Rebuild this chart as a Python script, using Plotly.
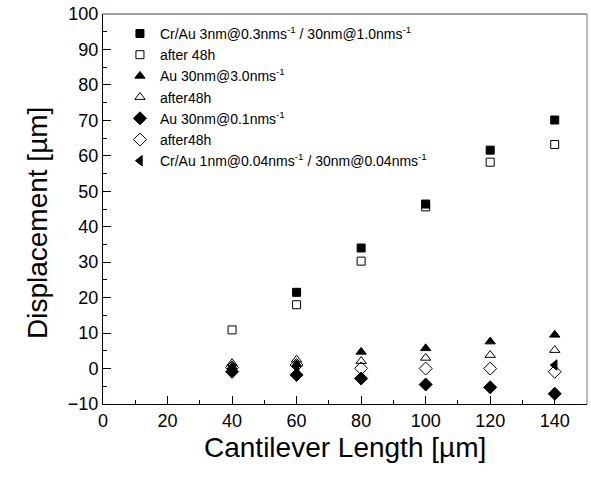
import plotly.graph_objects as go

# Cantilever lengths (µm)
lengths = [40, 60, 80, 100, 120, 140]

# Tip displacement (µm) for each deposition condition
crau_3nm = [None, 21.5, 34.0, 46.4, 61.6, 70.1]
crau_3nm_48h = [10.9, 18.0, 30.3, 45.6, 58.2, 63.2]
au_30nm_fast = [0.5, 1.2, 4.7, 5.7, 7.6, 9.5]
au_30nm_fast_48h = [1.5, 2.5, 2.1, 3.0, 3.8, 5.2]
au_30nm_slow = [-0.9, -1.8, -2.8, -4.5, -5.3, -7.1]
au_30nm_slow_48h = [0.3, 1.0, 0.05, 0.0, 0.0, -0.9]
crau_1nm = [0.0, 0.5, None, None, None, 1.0]

series = [
    ("Cr/Au 3nm@0.3nms<sup>-1</sup> / 30nm@1.0nms<sup>-1</sup>", crau_3nm, "square", 8),
    ("after 48h", crau_3nm_48h, "square-open", 8),
    ("Au 30nm@3.0nms<sup>-1</sup>", au_30nm_fast, "triangle-up", 9),
    ("after48h", au_30nm_fast_48h, "triangle-up-open", 9),
    ("Au 30nm@0.1nms<sup>-1</sup>", au_30nm_slow, "diamond", 10),
    ("after48h", au_30nm_slow_48h, "diamond-open", 10),
    ("Cr/Au 1nm@0.04nms<sup>-1</sup> / 30nm@0.04nms<sup>-1</sup>", crau_1nm, "triangle-left", 9),
]

fig = go.Figure()
for name, vals, sym, size in series:
    fig.add_trace(go.Scatter(
        x=lengths, y=vals, mode="markers", name=name,
        marker=dict(symbol=sym, size=size, color="black",
                    line=dict(color="black", width=1)),
    ))

axis_common = dict(
    showgrid=False, zeroline=False, showline=True, linecolor="black",
    linewidth=1, ticks="inside", ticklen=8, tickwidth=1,
    tickcolor="black", tickfont=dict(size=18, color="black"),
)

fig.update_xaxes(
    range=[0, 150], tickmode="linear", tick0=0, dtick=20,
    minor=dict(ticks="inside", ticklen=4, dtick=10, tickcolor="black"),
    **axis_common,
)
fig.update_yaxes(
    range=[-10, 100], tickmode="linear", tick0=-10, dtick=10,
    minor=dict(ticks="inside", ticklen=4, dtick=5, tickcolor="black"),
    **axis_common,
)

# Top and right frame lines, drawn a little lighter than the axes
fig.add_shape(type="line", xref="paper", yref="paper", x0=0, x1=1, y0=1, y1=1,
              line=dict(color="#444444", width=1))
fig.add_shape(type="line", xref="paper", yref="paper", x0=1, x1=1, y0=0, y1=1,
              line=dict(color="#777777", width=1))

# Axis titles
fig.add_annotation(text="Cantilever Length [\u00b5m]", xref="paper", yref="paper",
                   x=0.5, y=0, yshift=-43, xanchor="center", yanchor="middle",
                   showarrow=False, font=dict(size=28, color="black"))
fig.add_annotation(text="Displacement [\u00b5m]", xref="paper", yref="paper",
                   x=0, y=0.464, xshift=-66, xanchor="center", yanchor="middle",
                   textangle=-90, showarrow=False, font=dict(size=28, color="black"))

fig.update_layout(
    width=591, height=480,
    margin=dict(l=103, r=4, t=14, b=76),
    paper_bgcolor="white", plot_bgcolor="white",
    font=dict(family="Liberation Sans, Arial, sans-serif", color="black"),
    legend=dict(x=0.035, y=0.99, xanchor="left", yanchor="top",
                font=dict(size=14), bgcolor="rgba(0,0,0,0)",
                tracegroupgap=0),
)

fig.write_html("out.html")
